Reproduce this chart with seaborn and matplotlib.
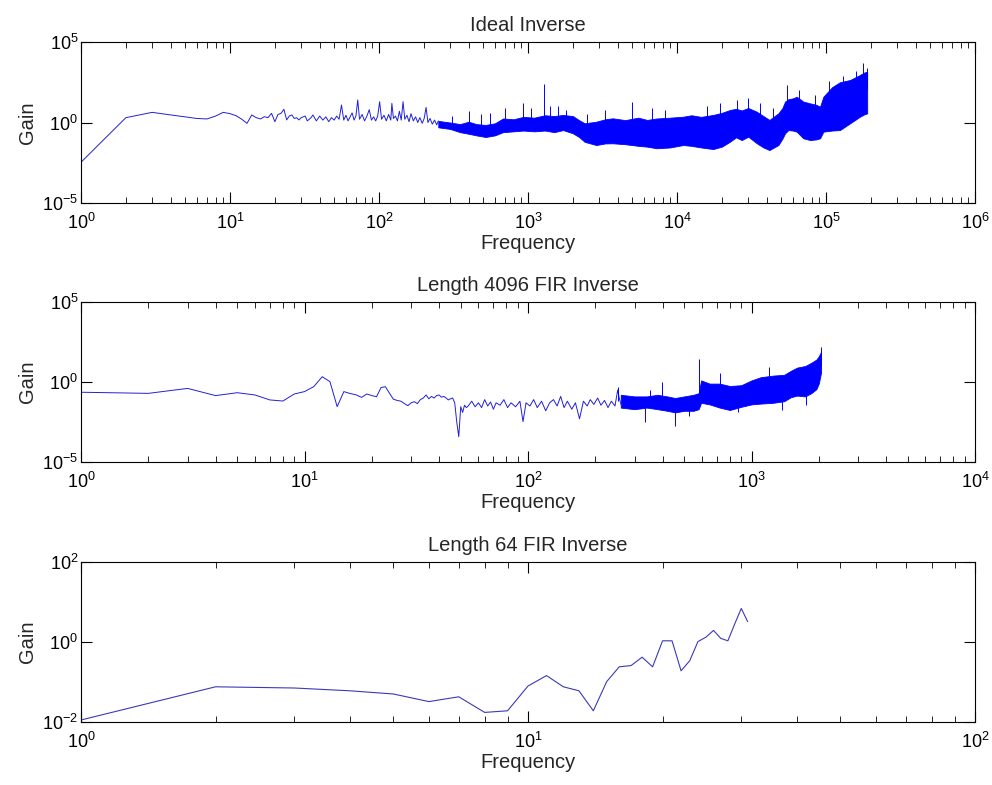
import numpy as np
import matplotlib
matplotlib.use("Agg")
import matplotlib.pyplot as plt
import seaborn as sns
from matplotlib.ticker import LogLocator, NullLocator, FixedLocator, NullFormatter

# ---------------- data (gains stored as log10 exponents) ----------------
titles = ["Ideal Inverse", "Length 4096 FIR Inverse", "Length 64 FIR Inverse"]
x_label = "Frequency"
y_label = "Gain"

# Panel 1: sparse low-frequency trace
p1_freq = [1, 2, 3, 4, 5, 6, 7, 8, 9, 10, 11, 12, 13, 14, 15, 16, 17, 18, 19, 20,
           21, 22, 23, 24, 25, 26, 27, 28, 29, 30, 32, 33, 35, 36, 38, 40, 42, 44, 46, 48,
           50, 52, 54, 56, 58, 60, 62, 64, 66, 68, 70, 72, 74, 77, 80, 83, 86, 89, 92, 95,
           98, 101, 104, 108, 112, 116, 120, 122, 125, 129, 133, 137, 141, 145, 149, 154, 159, 164, 170, 176,
           182, 188, 195, 201, 207, 213, 220, 228, 236, 244, 250]
p1_gain = [-2.47, 0.30, 0.63, 0.47, 0.35, 0.25, 0.22, 0.40, 0.63, 0.55, 0.42, 0.20, -0.05, 0.47, 0.30, 0.22, 0.36, 0.30, 0.57, 0.05,
           0.50, 0.57, 0.82, 0.16, 0.40, 0.47, 0.25, 0.30, 0.16, 0.30, 0.40, 0.10, 0.30, 0.47, 0.10, 0.40, 0.15, 0.35, 0.05, 0.30,
           0.15, 0.40, 0.20, 1.09, 0.15, 0.45, 0.10, 0.35, 0.60, 0.15, 0.40, 1.40, 0.20, 0.50, 0.10, 0.40, 0.80, 0.15, 0.35, 0.10,
           0.40, 1.29, 0.20, 0.45, 0.10, 0.50, 0.15, 1.19, 0.25, 0.40, 0.10, 0.70, 0.15, 1.29, 0.20, 0.45, 0.05, 0.55, 0.10, 0.35,
           0.00, 0.30, -0.05, 0.25, 0.94, 0.00, 0.25, -0.10, 0.15, -0.15, 0.10]
# Panel 1: dense band (upper / lower envelope)
p1_band_freq = [250, 300, 350, 400, 450, 520, 600, 680, 800, 930, 1100, 1300, 1500, 1720, 2000, 2200, 2400, 2870,
                3300, 3700, 4500, 5500, 6300, 7300, 9000, 11000, 12500, 14500, 17500, 20000, 22700, 24900, 27200,
                30100, 34300, 38000, 41700, 47900, 51000, 53100, 56000, 60000, 63600, 70400, 78100, 86000, 91200,
                96000, 110000, 124000, 145000, 169000, 180000, 189000]
p1_band_hi = [0.10, 0.00, -0.10, 0.05, -0.10, -0.15, -0.05, 0.25, 0.20, 0.35, 0.30, 0.45, 0.40, 0.47, 0.40, 0.15, -0.05, 0.05,
              0.20, 0.26, 0.15, 0.30, 0.16, 0.25, 0.30, 0.36, 0.45, 0.35, 0.47, 0.60, 0.78, 0.85, 0.75,
              0.90, 0.67, 0.40, 0.16, 0.57, 0.90, 1.30, 1.45, 1.50, 1.60, 1.30, 1.19, 1.10, 0.98,
              1.60, 2.20, 2.50, 2.64, 2.95, 3.10, 3.16]
p1_band_lo = [-0.30, -0.40, -0.60, -0.70, -0.80, -0.90, -0.80, -0.60, -0.55, -0.50, -0.55, -0.50, -0.60, -0.47, -0.67, -0.90, -1.20, -1.40,
              -1.30, -1.29, -1.35, -1.45, -1.50, -1.60, -1.55, -1.40, -1.45, -1.55, -1.65, -1.50, -1.19, -0.92, -1.09,
              -0.88, -1.29, -1.55, -1.71, -1.40, -1.00, -0.67, -0.47, -0.50, -0.57, -0.98, -1.09, -1.05, -0.98,
              -0.57, -0.50, -0.47, -0.05, 0.36, 0.50, 0.57]
# Panel 1: isolated spikes (frequency, base, tip)
p1_spike_freq = [310, 400, 480, 560, 700, 930, 1050, 1286, 1400, 1600, 1800, 2500, 3300, 4960, 6800, 8300,
                 16000, 19500, 25100, 29800, 36000, 44000, 54400, 66000, 84000, 105000, 130000, 160000, 178000, 187000]
p1_spike_base = [-0.2, -0.3, -0.4, -0.4, 0.0, 0.0, 0.0, 0.0, 0.0, 0.0, 0.0, -0.5, -0.5, -0.5, -0.5, -0.5,
                 -0.5, -0.5, -0.5, -0.5, -0.5, -0.5, 0.5, 0.5, 0.5, 1.0, 1.0, 1.5, 2.0, 2.0]
p1_spike_tip = [0.40, 0.70, 0.50, 0.60, 0.90, 1.20, 0.90, 2.37, 1.00, 1.00, 0.80, 0.50, 0.80, 1.29, 0.90, 0.80,
                1.00, 1.20, 1.40, 1.50, 1.20, 0.90, 2.33, 2.00, 1.70, 2.60, 2.90, 3.20, 3.68, 3.40]

# Panel 2: sparse low-frequency trace
p2_freq = [1, 2, 3, 4, 5, 6, 7, 8, 9, 10, 11, 12, 13, 14, 15, 16, 17, 18, 19, 20,
           21, 22, 23, 24, 25, 26, 27, 28, 29, 30, 31, 32, 33, 34, 35, 36, 37, 38, 39, 40,
           41, 42, 43, 44, 45, 46, 47, 48, 49, 50, 51, 52, 53, 54, 56, 58, 60, 62, 64, 66,
           68, 70, 72, 75, 78, 81, 84, 88, 92, 95, 98, 102, 106, 110, 115, 120, 125, 130, 135, 140,
           145, 150, 157, 163, 170, 177, 184, 190, 197, 205, 212, 220, 228, 236, 245, 252, 256, 262]
p2_gain = [-0.64, -0.71, -0.40, -0.85, -0.67, -0.81, -1.12, -1.19, -0.75, -0.60, -0.29, 0.33, 0.02, -1.54, -0.60, -0.72, -0.80, -0.96, -0.75, -0.85,
           -0.92, -0.35, -0.29, -0.70, -1.08, -1.15, -1.20, -1.35, -1.48, -1.30, -1.23, -1.35, -1.10, -1.00, -0.81, -1.05, -0.90, -1.00, -0.85, -0.81,
           -0.95, -0.90, -1.00, -1.12, -1.05, -1.00, -1.30, -2.50, -3.42, -1.54, -1.90, -1.45, -1.60, -1.50, -1.20, -1.55, -1.30, -1.60, -1.10, -1.50,
           -1.25, -1.70, -1.30, -1.45, -1.10, -1.60, -1.30, -1.55, -1.20, -2.48, -1.30, -1.50, -1.10, -1.60, -1.20, -1.80, -1.30, -1.10, -1.50, -0.90,
           -1.60, -1.20, -1.70, -1.30, -2.30, -1.20, -1.50, -1.10, -1.40, -1.00, -1.45, -1.15, -1.60, -1.20, -1.50, -0.50, -1.00, -1.50]
p2_band_freq = [260, 300, 340, 380, 420, 455, 500, 550, 580, 595, 650, 720, 800, 900, 1000, 1100, 1250, 1400,
                1500, 1600, 1740, 1850, 1950, 2000, 2048]
p2_band_hi = [-0.80, -0.90, -0.90, -0.80, -0.90, -1.00, -0.90, -0.80, -0.70, 0.10, -0.10, -0.10, -0.25, -0.20, 0.10, 0.30, 0.40, 0.45,
              0.70, 0.90, 1.00, 1.20, 1.40, 1.60, 1.90]
p2_band_lo = [-1.60, -1.70, -1.60, -1.70, -1.80, -1.90, -1.80, -1.80, -1.70, -1.30, -1.40, -1.60, -1.75, -1.55, -1.40, -1.35, -1.30, -1.20,
              -0.95, -0.85, -0.90, -0.70, -0.45, -0.10, 0.60]
p2_spike_freq = [252, 335, 350, 396, 455, 523, 584, 723, 870, 1200, 1370, 1745, 2040]
p2_spike_base = [-1.2, -1.6, -1.0, -1.0, -1.6, -1.6, -1.0, -0.5, -1.2, 0.0, -1.0, -0.6, 1.0]
p2_spike_tip = [-0.30, -2.50, -0.50, 0.00, -2.75, -2.10, 1.44, 0.56, -1.90, 0.93, -1.75, -1.44, 2.20]

# Panel 3: full trace
p3_freq = list(range(1, 32))
p3_gain = [-1.95, -1.12, -1.15, -1.22, -1.30, -1.49, -1.37, -1.76, -1.72, -1.10,
           -0.84, -1.12, -1.22, -1.72, -0.99, -0.62, -0.59, -0.38, -0.62, 0.03,
           0.03, -0.72, -0.47, 0.01, 0.12, 0.29, 0.09, 0.03, 0.45, 0.84, 0.51]

x_limits = [(1e0, 1e6), (1e0, 1e4), (1e0, 1e2)]
y_limits = [(1e-5, 1e5), (1e-5, 1e5), (1e-2, 1e2)]
y_ticks = [[1e-5, 1e0, 1e5], [1e-5, 1e0, 1e5], [1e-2, 1e0, 1e2]]

# ---------------- style ----------------
sns.set_theme(style="white")
plt.rcParams["font.family"] = ["Liberation Sans", "DejaVu Sans"]
plt.rcParams["mathtext.default"] = "regular"
plt.rcParams["axes.edgecolor"] = "black"
plt.rcParams["axes.linewidth"] = 0.8

LINE = "#2020d8"
BAND = "#0000ff"

fig = plt.figure(figsize=(9.92, 7.85), dpi=100)
left, width = 81 / 992, 894 / 992
tops = [42, 302, 562]
bottoms = [203, 462, 722]
axes = []
for t, b in zip(tops, bottoms):
    axes.append(fig.add_axes([left, 1 - b / 785, width, (b - t) / 785]))


def p10(v):
    return np.power(10.0, np.asarray(v, dtype=float))


# panel 1
ax = axes[0]
sns.lineplot(x=p1_freq, y=p10(p1_gain), ax=ax, color=LINE, lw=0.7, sort=False, estimator=None)
ax.fill_between(p1_band_freq, p10(p1_band_lo), p10(p1_band_hi), color=BAND, lw=0.6, edgecolor=BAND)
ax.vlines(p1_spike_freq, p10(p1_spike_base), p10(p1_spike_tip), color=BAND, lw=0.7)

# panel 2
ax = axes[1]
sns.lineplot(x=p2_freq, y=p10(p2_gain), ax=ax, color=LINE, lw=0.7, sort=False, estimator=None)
ax.fill_between(p2_band_freq, p10(p2_band_lo), p10(p2_band_hi), color=BAND, lw=0.6, edgecolor=BAND)
ax.vlines(p2_spike_freq, p10(p2_spike_base), p10(p2_spike_tip), color=BAND, lw=0.7)

# panel 3
ax = axes[2]
sns.lineplot(x=p3_freq, y=p10(p3_gain), ax=ax, color="#3a3ab8", lw=0.8, sort=False, estimator=None)

for i, ax in enumerate(axes):
    ax.set_xscale("log")
    ax.set_yscale("log")
    ax.set_xlim(*x_limits[i])
    ax.set_ylim(*y_limits[i])
    ax.xaxis.set_major_locator(LogLocator(base=10, numticks=20))
    ax.xaxis.set_minor_locator(LogLocator(base=10, subs=np.arange(2, 10), numticks=100))
    ax.xaxis.set_minor_formatter(NullFormatter())
    ax.yaxis.set_major_locator(FixedLocator(y_ticks[i]))
    ax.yaxis.set_minor_locator(NullLocator())
    ax.yaxis.set_minor_formatter(NullFormatter())
    ax.tick_params(which="both", direction="in", top=True, right=True, bottom=True, left=True,
                   colors="black", labelsize=13)
    ax.tick_params(which="major", length=8, width=0.8)
    ax.tick_params(which="minor", length=4, width=0.6)
    ax.tick_params(axis="x", which="major", pad=7)
    ax.tick_params(axis="y", which="major", pad=2)
    for s in ax.spines.values():
        s.set_visible(True)
        s.set_color("black")
        s.set_linewidth(0.8)
    ax.set_facecolor("white")
    ax.set_title(titles[i], fontsize=14.5, pad=8)
    ax.set_xlabel(x_label, fontsize=14.5, labelpad=1)
    ax.set_ylabel(y_label, fontsize=14.5, labelpad=4)

fig.savefig("out.png", dpi=100, facecolor="white")
